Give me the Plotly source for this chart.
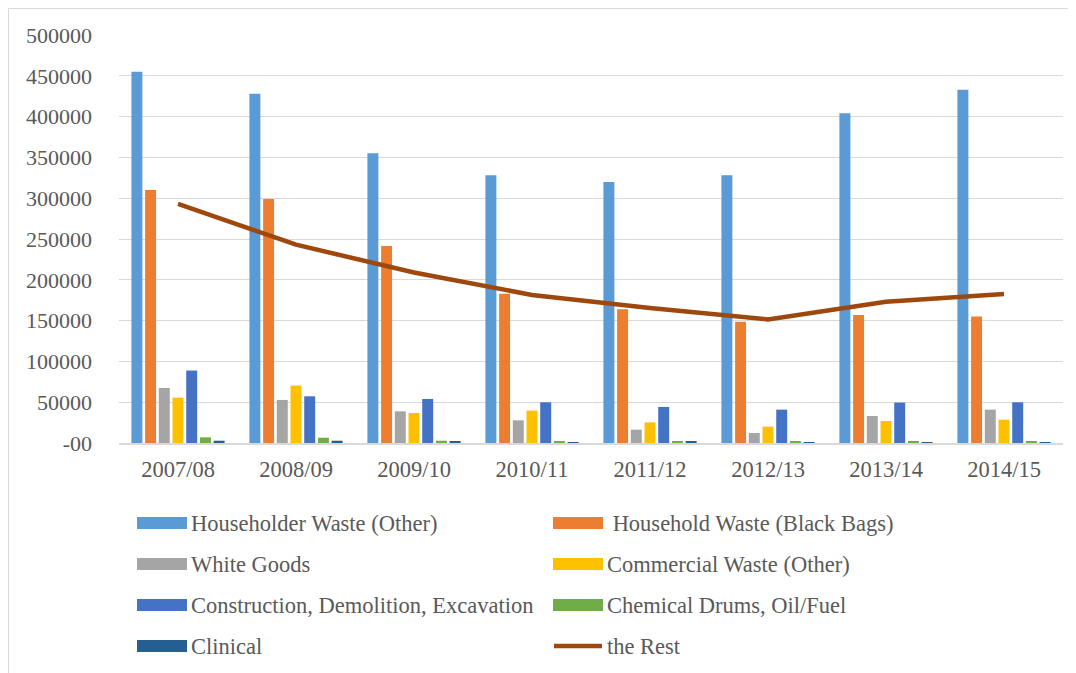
import plotly.graph_objects as go

years = ["2007/08", "2008/09", "2009/10", "2010/11", "2011/12", "2012/13", "2013/14", "2014/15"]

householder_other = [455000, 428000, 355000, 328000, 320000, 328000, 404000, 433000]
household_black_bags = [310000, 299000, 241500, 183000, 164000, 148500, 157000, 155000]
white_goods = [67500, 52800, 38800, 27800, 16300, 12300, 33100, 40900]
commercial_other = [55600, 70400, 36800, 39700, 25300, 20000, 27000, 28600]
construction = [88800, 57200, 54000, 49900, 44200, 40900, 49500, 49900]
chemical_drums = [6900, 6500, 2800, 2500, 1300, 1300, 1300, 1300]
clinical = [2800, 2800, 1600, 1000, 1300, 300, 300, 500]
the_rest = [293000, 243000, 209000, 181500, 165500, 151500, 173000, 182500]

bar_names = ["Householder Waste (Other)", " Household Waste (Black Bags)", "White Goods",
             "Commercial Waste (Other)", "Construction, Demolition, Excavation",
             "Chemical Drums, Oil/Fuel", "Clinical"]
bar_values = [householder_other, household_black_bags, white_goods, commercial_other,
              construction, chemical_drums, clinical]
bar_colors = ["#5B9BD5", "#ED7D31", "#A5A5A5", "#FFC000", "#4472C4", "#70AD47", "#255E91"]
line_name = "the Rest"
line_color = "#9E480E"

y_ticks = [0, 50000, 100000, 150000, 200000, 250000, 300000, 350000, 400000, 450000, 500000]
y_ticktext = ["-00", "50000", "100000", "150000", "200000", "250000", "300000",
              "350000", "400000", "450000", "500000"]

# page offset of 8px (body margin) is subtracted from all reference positions
OFF = 8
W, H = 1068, 665
ML, MR, MT, MB = 111, 13, 27, 230
PW, PH = W - ML - MR, H - MT - MB

def px_x(px):
    return (px - OFF - ML) / PW

def px_y(py):
    return (H - MB - (py - OFF)) / PH

FONT = "'Liberation Serif', 'Times New Roman', Times, serif"
TXT = "#595959"

fig = go.Figure()
for name, vals, col in zip(bar_names, bar_values, bar_colors):
    fig.add_trace(go.Bar(x=years, y=vals, name=name, marker=dict(color=col, line=dict(width=0)),
                         showlegend=False))
fig.add_trace(go.Scatter(x=years, y=the_rest, name=line_name, mode="lines",
                         line=dict(color=line_color, width=4.5), showlegend=False))

# manual legend (two columns)
legend_names = bar_names + [line_name]
legend_colors = bar_colors + [line_color]
shapes = []
annotations = []
row_y = [523, 564, 605, 646]
col_x = [137, 553]
for i, (nm, colr) in enumerate(zip(legend_names, legend_colors)):
    r, c = divmod(i, 2)
    x0 = col_x[c]
    yc = row_y[r]
    if nm == line_name:
        shapes.append(dict(type="line", xref="paper", yref="paper",
                           x0=px_x(x0 + 1), x1=px_x(x0 + 49), y0=px_y(yc), y1=px_y(yc),
                           line=dict(color=colr, width=4.5)))
    else:
        shapes.append(dict(type="rect", xref="paper", yref="paper",
                           x0=px_x(x0), x1=px_x(x0 + 50), y0=px_y(yc - 6), y1=px_y(yc + 6),
                           fillcolor=colr, line=dict(width=0)))
    annotations.append(dict(xref="paper", yref="paper", x=px_x(x0 + 52), y=px_y(yc),
                            text=nm.replace(" ", "&nbsp;", 1) if nm.startswith(" ") else nm,
                            showarrow=False, xanchor="left", yanchor="middle",
                            font=dict(family=FONT, size=22.5, color=TXT)))

# chart border (left and top visible)
shapes.append(dict(type="rect", xref="paper", yref="paper", layer="below",
                   x0=px_x(8.5), x1=px_x(1090), y0=px_y(700), y1=px_y(8.5),
                   line=dict(color="#D9D9D9", width=1), fillcolor="rgba(0,0,0,0)"))

fig.update_layout(
    width=W, height=H,
    margin=dict(l=ML, r=MR, t=MT, b=MB),
    paper_bgcolor="white", plot_bgcolor="white",
    barmode="group", bargap=0.187, bargroupgap=0.2,
    shapes=shapes, annotations=annotations,
    showlegend=False,
    font=dict(family=FONT, color=TXT),
    xaxis=dict(showgrid=False, showline=True, linecolor="#D9D9D9", linewidth=1.5,
               ticks="", tickfont=dict(family=FONT, size=22.5, color=TXT), ticklabelstandoff=5),
    yaxis=dict(range=[0, 500000], tickvals=y_ticks, ticktext=y_ticktext,
               showgrid=True, gridcolor="#D9D9D9", gridwidth=1.3, zeroline=False,
               showline=False, ticks="", ticklabelstandoff=26,
               tickfont=dict(family=FONT, size=22, color=TXT)),
)

fig.write_html("out.html")
